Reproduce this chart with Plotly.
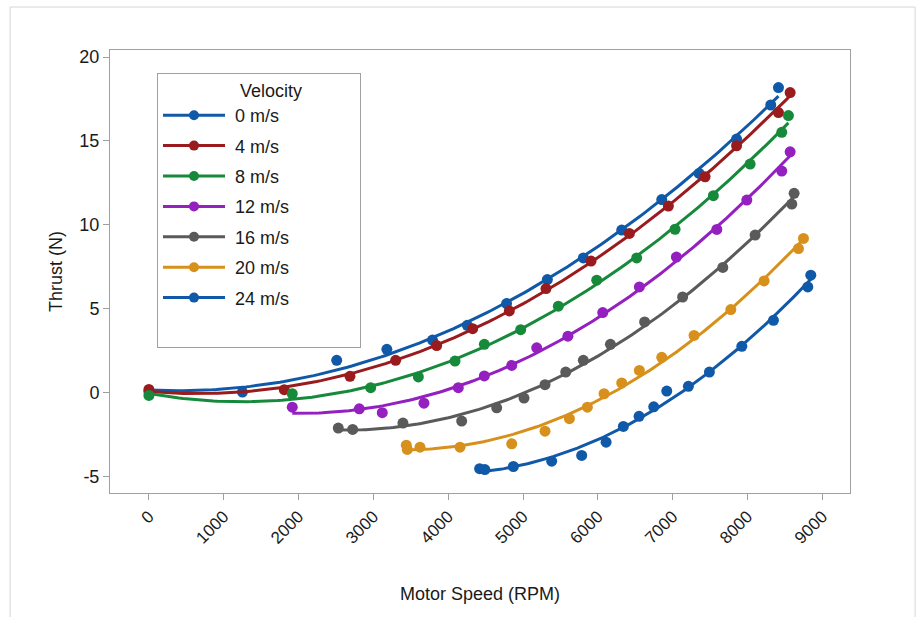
import numpy as np
import plotly.graph_objects as go

series_labels = ["0 m/s", "4 m/s", "8 m/s", "12 m/s", "16 m/s", "20 m/s", "24 m/s"]
series_colors = ["#1059a8", "#9a1b1e", "#168a3a", "#9420c0", "#5a5a5a", "#d8901c", "#1059a8"]

rpm_0 = [0, 1250, 2510, 3180, 3790, 4255, 4780, 5325, 5806, 6319, 6854, 7354, 7854, 8311, 8414]
thrust_0 = [0.05, 0.02, 1.91, 2.57, 3.12, 4.0, 5.3, 6.73, 8.02, 9.68, 11.5, 13.06, 15.11, 17.14, 18.18]

rpm_4 = [0, 1809, 2687, 3298, 3846, 4327, 4817, 5307, 5909, 6421, 6943, 7433, 7854, 8414, 8570]
thrust_4 = [0.18, 0.16, 0.96, 1.91, 2.79, 3.80, 4.86, 6.19, 7.83, 9.48, 11.11, 12.86, 14.71, 16.69, 17.88]

rpm_8 = [0, 1916, 2964, 3601, 4091, 4483, 4969, 5472, 5985, 6519, 7032, 7544, 8035, 8458, 8547]
thrust_8 = [-0.18, -0.08, 0.28, 0.92, 1.87, 2.87, 3.74, 5.14, 6.69, 8.02, 9.73, 11.73, 13.62, 15.51, 16.51]

rpm_12 = [1916, 2812, 3119, 3676, 4135, 4483, 4849, 5183, 5600, 6065, 6555, 7050, 7590, 7991, 8458, 8570]
thrust_12 = [-0.88, -0.98, -1.21, -0.64, 0.28, 0.98, 1.61, 2.66, 3.35, 4.76, 6.29, 8.07, 9.72, 11.47, 13.20, 14.35]

rpm_16 = [2531, 2723, 3395, 4180, 4648, 5013, 5294, 5571, 5806, 6168, 6625, 7133, 7670, 8102, 8592, 8623]
thrust_16 = [-2.13, -2.21, -1.83, -1.71, -0.92, -0.34, 0.46, 1.21, 1.91, 2.87, 4.20, 5.69, 7.45, 9.38, 11.23, 11.87]

rpm_20 = [3440, 3453, 3623, 4158, 4849, 5294, 5620, 5860, 6083, 6319, 6555, 6854, 7286, 7777, 8222, 8681, 8748]
thrust_20 = [-3.15, -3.4, -3.27, -3.27, -3.07, -2.31, -1.57, -0.88, -0.08, 0.56, 1.31, 2.09, 3.40, 4.94, 6.65, 8.58, 9.18]

rpm_24 = [4420, 4490, 4871, 5383, 5784, 6110, 6341, 6551, 6747, 6921, 7210, 7491, 7924, 8347, 8806, 8846]
thrust_24 = [-4.55, -4.6, -4.42, -4.1, -3.76, -2.97, -2.03, -1.43, -0.86, 0.08, 0.36, 1.21, 2.75, 4.30, 6.29, 6.99]

rpm_sets = [rpm_0, rpm_4, rpm_8, rpm_12, rpm_16, rpm_20, rpm_24]
thrust_sets = [thrust_0, thrust_4, thrust_8, thrust_12, thrust_16, thrust_20, thrust_24]

x_ticks = [0, 1000, 2000, 3000, 4000, 5000, 6000, 7000, 8000, 9000]
y_ticks = [-5, 0, 5, 10, 15, 20]
y_ticktext = ["-5", "0", "5", "10", "15", "20"]

FONT = "Liberation Sans, Arial, sans-serif"
NB = "\u00a0"
fig = go.Figure()

for lab, col, xs, ys in zip(series_labels, series_colors, rpm_sets, thrust_sets):
    xs = np.array(xs, dtype=float)
    ys = np.array(ys, dtype=float)
    coef = np.polyfit(xs, ys, 2)
    xf = np.linspace(xs.min(), xs.max(), 150)
    yf = np.polyval(coef, xf)
    fig.add_trace(go.Scatter(x=xf, y=yf, mode="lines", line=dict(color=col, width=3),
                             legendgroup=lab, showlegend=False, hoverinfo="skip"))
    fig.add_trace(go.Scatter(x=xs, y=ys, mode="markers", marker=dict(color=col, size=11),
                             legendgroup=lab, showlegend=False, name=lab))
    fig.add_trace(go.Scatter(x=[None], y=[None], mode="lines+markers",
                             line=dict(color=col, width=3), marker=dict(color=col, size=10),
                             legendgroup=lab, name=NB + lab))

# blank spacer entry at the bottom of the legend box
fig.add_trace(go.Scatter(x=[None], y=[None], mode="lines", line=dict(color="rgba(0,0,0,0)", width=0),
                         legendgroup="spacer", name=NB, hoverinfo="skip"))

fig.update_layout(
    width=921, height=617,
    margin=dict(l=110, r=71, t=50, b=124),
    paper_bgcolor="white", plot_bgcolor="white",
    font=dict(family=FONT, size=18, color="#1a1a1a"),
    legend=dict(
        x=0.0635, y=0.949, xanchor="left", yanchor="top",
        bgcolor="white", bordercolor="#a0a0a0", borderwidth=1,
        font=dict(family=FONT, size=18, color="#1a1a1a"),
        title=dict(text=NB * 16 + "Velocity" + NB * 11, side="top", font=dict(family=FONT, size=18)),
        tracegroupgap=4, itemwidth=62,
    ),
    xaxis=dict(
        range=[-520, 9370], tickvals=x_ticks, tickangle=-45,
        ticks="outside", ticklen=6, tickcolor="#a0a0a0",
        showline=True, linecolor="#a0a0a0", linewidth=1, mirror=True,
        showgrid=False, zeroline=False,
        tickfont=dict(family=FONT, size=17),
        title=dict(text="Motor Speed (RPM)", font=dict(family=FONT, size=18), standoff=40),
    ),
    yaxis=dict(
        range=[-6.0, 20.42], tickvals=y_ticks, ticktext=y_ticktext,
        ticks="outside", ticklen=6, tickcolor="#a0a0a0",
        showline=True, linecolor="#a0a0a0", linewidth=1, mirror=True,
        showgrid=False, zeroline=False,
        tickfont=dict(family=FONT, size=18),
        title=dict(text="Thrust (N)", font=dict(family=FONT, size=18), standoff=12),
    ),
)

fig.add_shape(type="rect", xref="paper", yref="paper",
              x0=-0.135, x1=1.088, y0=-0.35, y1=1.097,
              line=dict(color="#d6d6d6", width=1), layer="below")

fig.write_html("out.html")
